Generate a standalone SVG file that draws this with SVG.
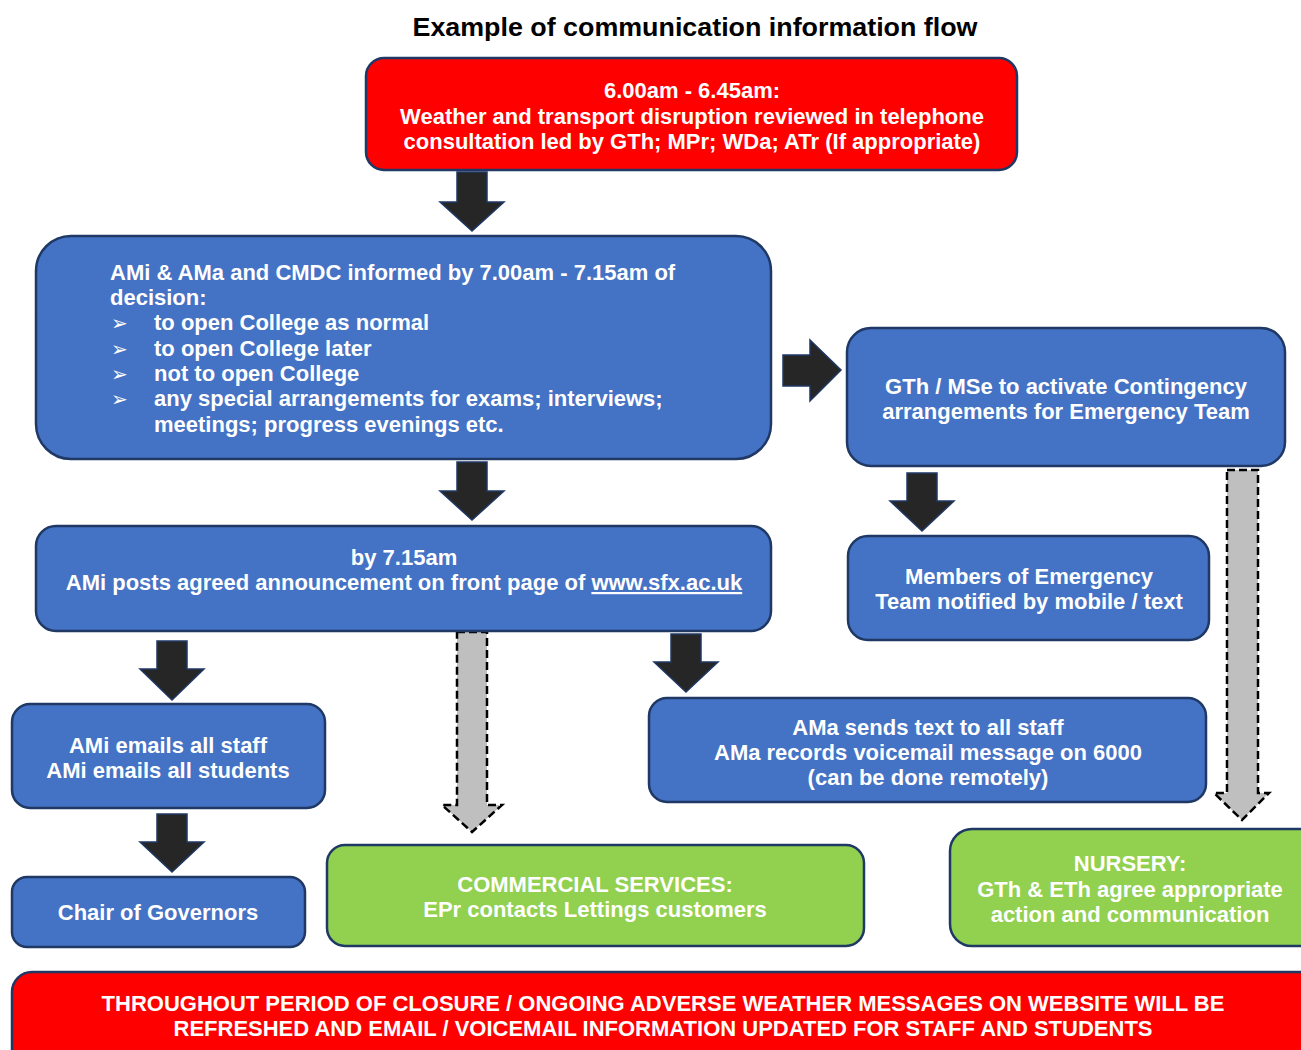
<svg xmlns="http://www.w3.org/2000/svg" width="1301" height="1050" viewBox="0 0 1301 1050">
<style>
.t{font-family:"Liberation Sans",Arial,sans-serif;font-weight:bold;font-size:22px;fill:#ffffff}
.c{text-anchor:middle}
.blue{fill:#4472c4;stroke:#1f3864;stroke-width:2.5}
.red{fill:#ff0000;stroke:#1f3864;stroke-width:2.5}
.green{fill:#92d050;stroke:#1f3864;stroke-width:2.5}
.solid{fill:#262626;stroke:#1f3864;stroke-width:1.5;stroke-linejoin:miter}
.dash{fill:#bfbfbf;stroke:#000000;stroke-width:2.5;stroke-dasharray:8 4}
.bul{font-family:"DejaVu Sans",sans-serif;font-size:20px;fill:#ffffff}
</style>
<rect width="1301" height="1050" fill="#ffffff"/>
<text x="695" y="36" text-anchor="middle" font-family="Liberation Sans, Arial, sans-serif" font-weight="bold" font-size="26" fill="#000000" textLength="565" lengthAdjust="spacingAndGlyphs">Example of communication information flow</text>

<g id="connectors">
  <polygon class="solid" points="457,172 487,172 487,202 504,202 472,231 440,202 457,202"/>
  <polygon class="solid" points="783,355 810,355 810,340 841,370 810,401 810,386 783,386"/>
  <polygon class="solid" points="457,462 487,462 487,491 504,491 472,520 440,491 457,491"/>
  <polygon class="solid" points="907,473 937,473 937,501 954,501 922,531 890,501 907,501"/>
  <polygon class="solid" points="157,641 187,641 187,669 204,669 172,700 140,669 157,669"/>
  <polygon class="solid" points="157,814 187,814 187,842 204,842 172,872 140,842 157,842"/>
  <polygon class="solid" points="671,634 701,634 701,662 718,662 686,692 654,662 671,662"/>
  <polygon class="dash" points="457,632 487,632 487,805 502,805 472,832 442,805 457,805"/>
  <polygon class="dash" points="1227,470 1258,470 1258,793 1269,793 1242,820 1214,793 1227,793"/>
</g>

<g id="node-review">
  <rect class="red" x="366" y="58" width="651" height="112" rx="18"/>
  <text class="t c" x="692" y="98">6.00am - 6.45am:</text>
  <text class="t c" x="692" y="124">Weather and transport disruption reviewed in telephone</text>
  <text class="t c" x="692" y="149">consultation led by GTh; MPr; WDa; ATr (If appropriate)</text>
</g>

<g id="node-informed">
  <rect class="blue" x="36" y="236" width="735" height="223" rx="35"/>
  <text class="t" x="110" y="280">AMi &amp; AMa and CMDC informed by 7.00am - 7.15am of</text>
  <text class="t" x="110" y="305">decision:</text>
  <text class="bul" x="111" y="330">➢</text>
  <text class="t" x="154" y="330">to open College as normal</text>
  <text class="bul" x="111" y="356">➢</text>
  <text class="t" x="154" y="356">to open College later</text>
  <text class="bul" x="111" y="381">➢</text>
  <text class="t" x="154" y="381">not to open College</text>
  <text class="bul" x="111" y="406">➢</text>
  <text class="t" x="154" y="406">any special arrangements for exams; interviews;</text>
  <text class="t" x="154" y="432">meetings; progress evenings etc.</text>
</g>

<g id="node-contingency">
  <rect class="blue" x="847" y="328" width="438" height="138" rx="24"/>
  <text class="t c" x="1066" y="394">GTh / MSe to activate Contingency</text>
  <text class="t c" x="1066" y="419">arrangements for Emergency Team</text>
</g>

<g id="node-members">
  <rect class="blue" x="848" y="536" width="361" height="104" rx="20"/>
  <text class="t c" x="1029" y="584">Members of Emergency</text>
  <text class="t c" x="1029" y="609">Team notified by mobile / text</text>
</g>

<g id="node-website">
  <rect class="blue" x="36" y="526" width="735" height="105" rx="20"/>
  <text class="t c" x="404" y="565">by 7.15am</text>
  <text class="t c" x="404" y="590">AMi posts agreed announcement on front page of <tspan style="text-decoration:underline">www.sfx.ac.uk</tspan></text>
</g>

<g id="node-emails">
  <rect class="blue" x="12" y="704" width="313" height="104" rx="18"/>
  <text class="t c" x="168" y="753">AMi emails all staff</text>
  <text class="t c" x="168" y="778">AMi emails all students</text>
</g>

<g id="node-chair">
  <rect class="blue" x="12" y="877" width="293" height="70" rx="15"/>
  <text class="t c" x="158" y="920">Chair of Governors</text>
</g>

<g id="node-text-staff">
  <rect class="blue" x="649" y="698" width="557" height="104" rx="18"/>
  <text class="t c" x="928" y="735">AMa sends text to all staff</text>
  <text class="t c" x="928" y="760">AMa records voicemail message on 6000</text>
  <text class="t c" x="928" y="785">(can be done remotely)</text>
</g>

<g id="node-commercial">
  <rect class="green" x="327" y="845" width="537" height="101" rx="18"/>
  <text class="t c" x="595" y="892">COMMERCIAL SERVICES:</text>
  <text class="t c" x="595" y="917">EPr contacts Lettings customers</text>
</g>

<g id="node-nursery">
  <rect class="green" x="950" y="829" width="380" height="117" rx="22"/>
  <text class="t c" x="1130" y="871">NURSERY:</text>
  <text class="t c" x="1130" y="897">GTh &amp; ETh agree appropriate</text>
  <text class="t c" x="1130" y="922">action and communication</text>
</g>

<g id="node-closure">
  <rect class="red" x="12" y="972" width="1320" height="110" rx="20"/>
  <text class="t c" x="663" y="1011">THROUGHOUT PERIOD OF CLOSURE / ONGOING ADVERSE WEATHER MESSAGES ON WEBSITE WILL BE</text>
  <text class="t c" x="663" y="1036">REFRESHED AND EMAIL / VOICEMAIL INFORMATION UPDATED FOR STAFF AND STUDENTS</text>
</g>
</svg>
